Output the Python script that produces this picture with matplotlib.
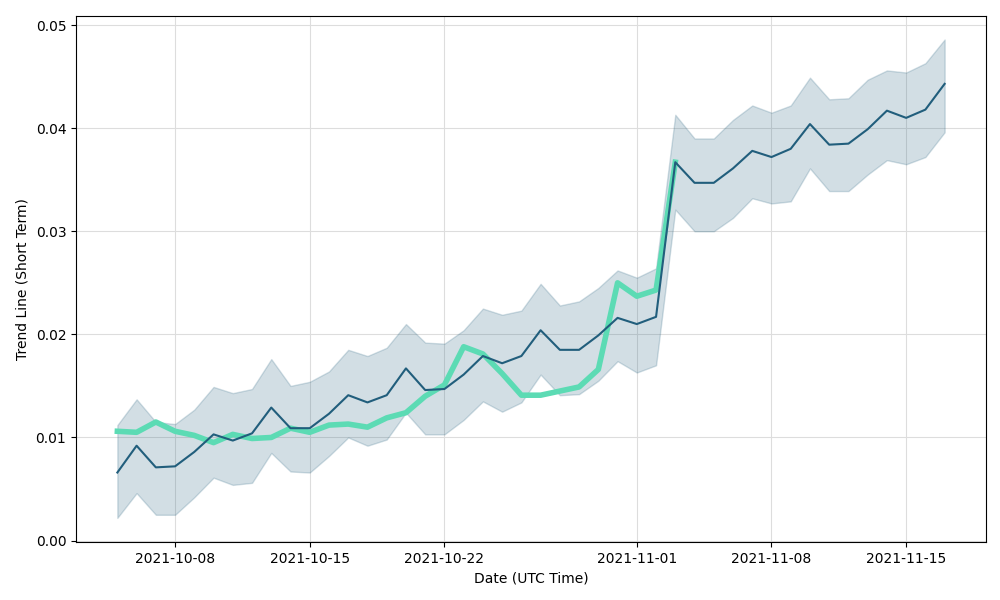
import numpy as np
import pandas as pd
import matplotlib
matplotlib.use('Agg')
import matplotlib.pyplot as plt
import matplotlib.dates as mdates

dates = pd.date_range('2021-10-05', '2021-11-17', freq='D')

trend = [0.0066, 0.0092, 0.0071, 0.0072, 0.0086, 0.0103, 0.0097, 0.0104, 0.0129, 0.0109,
         0.0109, 0.0123, 0.0141, 0.0134, 0.0141, 0.0167, 0.0146, 0.0147, 0.0161, 0.0179,
         0.0172, 0.0179, 0.0204, 0.0185, 0.0185, 0.0199, 0.0216, 0.0210, 0.0217, 0.0367,
         0.0347, 0.0347, 0.0361, 0.0378, 0.0372, 0.0380, 0.0404, 0.0384, 0.0385, 0.0399,
         0.0417, 0.0410, 0.0418, 0.0443]

upper = [0.0112, 0.0137, 0.0115, 0.0113, 0.0127, 0.0149, 0.0143, 0.0147, 0.0176, 0.0150,
         0.0154, 0.0164, 0.0185, 0.0179, 0.0187, 0.0210, 0.0192, 0.0191, 0.0204, 0.0225,
         0.0219, 0.0223, 0.0249, 0.0228, 0.0232, 0.0245, 0.0262, 0.0255, 0.0264, 0.0413,
         0.0390, 0.0390, 0.0408, 0.0422, 0.0415, 0.0422, 0.0449, 0.0428, 0.0429, 0.0447,
         0.0456, 0.0454, 0.0463, 0.0486]

lower = [0.0022, 0.0046, 0.0025, 0.0025, 0.0042, 0.0061, 0.0054, 0.0056, 0.0085, 0.0067,
         0.0066, 0.0082, 0.0100, 0.0092, 0.0098, 0.0124, 0.0103, 0.0103, 0.0117, 0.0135,
         0.0125, 0.0134, 0.0161, 0.0141, 0.0142, 0.0155, 0.0174, 0.0163, 0.0170, 0.0321,
         0.0300, 0.0300, 0.0313, 0.0332, 0.0327, 0.0329, 0.0361, 0.0339, 0.0339, 0.0355,
         0.0369, 0.0365, 0.0372, 0.0396]

# actual values, only up to 2021-11-03
actual = [0.0106, 0.0105, 0.0115, 0.0106, 0.0102, 0.0095, 0.0103, 0.0099, 0.0100, 0.0109,
          0.0105, 0.0112, 0.0113, 0.0110, 0.0119, 0.0124, 0.0140, 0.0151, 0.0188, 0.0181,
          0.0162, 0.0141, 0.0141, 0.0145, 0.0149, 0.0166, 0.0250, 0.0237, 0.0243, 0.0367]

dark = '#215e7c'
green = '#5cdbb4'

fig, ax = plt.subplots(figsize=(10, 6), dpi=100)
fig.subplots_adjust(left=0.076, right=0.986, top=0.974, bottom=0.097)

ax.fill_between(dates, lower, upper, color=dark, alpha=0.2, linewidth=1)
ax.plot(dates[:len(actual)], actual, color=green, linewidth=4)
ax.plot(dates, trend, color=dark, linewidth=1.5)

ax.xaxis.set_major_locator(mdates.AutoDateLocator())
ax.xaxis.set_major_formatter(mdates.DateFormatter('%Y-%m-%d'))
ax.grid(True, color='#dddddd', linewidth=0.8)
ax.set_axisbelow(True)
ax.set_xlabel('Date (UTC Time)')
ax.set_ylabel('Trend Line (Short Term)')

plt.savefig('out.png')
